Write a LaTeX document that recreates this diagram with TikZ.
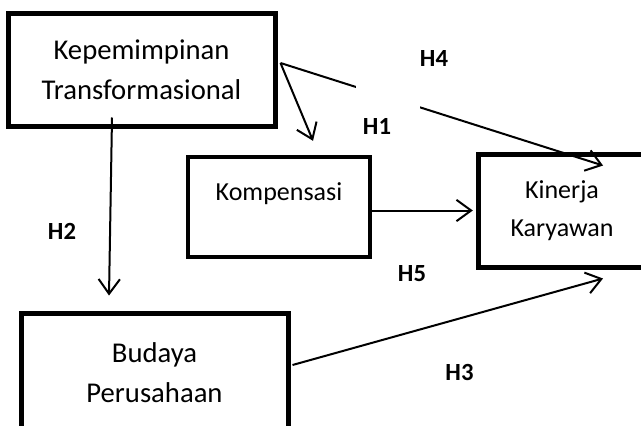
\documentclass[tikz,border=0pt]{standalone}
\usepackage{fontspec}
\setmainfont{Carlito}
\usetikzlibrary{arrows.meta,calc}

\tikzset{every picture/.style={line width=0.75pt}}

\begin{document}
\begin{tikzpicture}[x=0.75pt,y=0.75pt,yscale=-1,xscale=1,
  varbox/.style={draw,line width=3.75pt,align=center,inner sep=0pt,font=\fontsize{21.5}{30}\selectfont},
  hlab/.style={inner sep=0.75pt,font=\fontsize{18.5}{20}\selectfont\bfseries},
  arr/.style={line width=1.5pt,-{Straight Barb[length=11pt,width=16pt]}}]
\useasboundingbox (0,0) rectangle (641,425);

%Shape: Rectangle [id:kep]
\node [varbox,minimum width=200.25pt,minimum height=84.75pt] (kep) at (141.5,69.5) {Kepemimpinan\\Transformasional};
%Shape: Rectangle [id:kom]
\node [varbox,line width=3.25pt,minimum width=136.5pt,minimum height=75pt,font=\fontsize{19.5}{30}\selectfont] (kom) at (279,207) {Kompensasi\\[-7pt]~};
%Shape: Rectangle [id:kin]
\node [varbox,minimum width=126pt,minimum height=84.75pt,font=\fontsize{19.5}{28.5}\selectfont] (kin) at (562,210.5) {Kinerja\\Karyawan};
%Shape: Rectangle [id:bud]
\node [varbox,minimum width=200.25pt,minimum height=89.25pt] (bud) at (154.5,372.5) {Budaya\\Perusahaan};

%Straight Lines [id:h2]
\draw [arr] ($(kep.south)+(-29.5,-11)$) -- ($(bud.north)+(-45.5,-15)$);
%Straight Lines [id:h1]
\draw [arr] ($(kep.east)+(3,-6.5)$) -- ($(kom.north)+(34,-14)$);
%Straight Lines [id:h4]
\draw [arr] ($(kep.east)+(3,-6.5)$) -- ($(kin.north)+(41,14)$);
\fill [white] (356,80) rectangle (420,118);
%Straight Lines [id:h5]
\draw [arr,shorten >=2pt] (kom.east |- kin.west) -- (kin.west);
%Straight Lines [id:h3]
\draw [arr] ($(bud.east)+(2,-7.5)$) -- ($(kin.south)+(41,9)$);

% Text Node
\node [hlab] (lh4) at (434,58.5) {H4};
% Text Node
\node [hlab] (lh1) at (377,126) {H1};
% Text Node
\node [hlab] (lh2) at (62,231) {H2};
% Text Node
\node [hlab] (lh5) at (412,274) {H5};
% Text Node
\node [hlab] (lh3) at (459.5,372.5) {H3};

\end{tikzpicture}
\end{document}
